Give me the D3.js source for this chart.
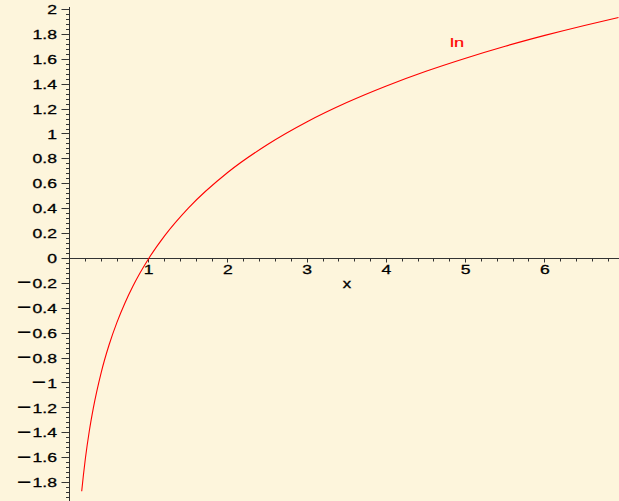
<!DOCTYPE html>
<html>
<head>
<meta charset="utf-8">
<script src="https://cdn.jsdelivr.net/npm/d3@7"></script>
<style>
  html, body { margin: 0; padding: 0; background: #fdf5dc; }
  svg { display: block; }
</style>
</head>
<body>
<div id="chart"></div>
<script>
// points (x, ln x)
const xs = [0.154, 0.175, 0.2, 0.25, 0.3, 0.4, 0.5, 0.6, 0.7, 0.8, 1.0, 1.2, 1.5, 2.0, 2.5, 3.0, 3.5, 4.0, 4.5, 5.0, 5.5, 6.0, 6.5, 6.93];
const ys = [-1.87, -1.743, -1.609, -1.386, -1.204, -0.916, -0.693, -0.511, -0.357, -0.223, 0, 0.182, 0.405, 0.693, 0.916, 1.099, 1.253, 1.386, 1.504, 1.609, 1.705, 1.792, 1.872, 1.936];

const xTicks = [1, 2, 3, 4, 5, 6];
const yTicks = [-1.8, -1.6, -1.4, -1.2, -1, -0.8, -0.6, -0.4, -0.2, 0, 0.2, 0.4, 0.6, 0.8, 1, 1.2, 1.4, 1.6, 1.8, 2];
const curveLabel = 'ln';
const axisLabel = 'x';

const width = 619, height = 501;
const stretch = 1.35;   // the labels are drawn wide

const svg = d3.select('#chart')
    .append('svg')
    .attr('width', width)
    .attr('height', height);

svg.append('rect')
    .attr('width', width)
    .attr('height', height)
    .attr('fill', '#fdf5dc');

// Échelles
const x = d3.scaleLinear().domain([0, 6.93]).range([69.5, 618.5]);
const y = d3.scaleLinear().domain([-1.94, 2.02]).range([500, 7]);

const axisColor = '#333';
const font = '"Liberation Sans", Arial, sans-serif';
const px = v => Math.round(v - 0.5) + 0.5;

// axe vertical
svg.append('line')
    .attr('x1', px(x(0))).attr('x2', px(x(0)))
    .attr('y1', y.range()[1]).attr('y2', height)
    .attr('stroke', axisColor);

// axe horizontal
svg.append('line')
    .attr('x1', x(0)).attr('x2', width)
    .attr('y1', px(y(0))).attr('y2', px(y(0)))
    .attr('stroke', axisColor);

// petites graduations
const yMinor = d3.range(-48, 51).map(i => i * 0.04);
svg.selectAll('.ymin')
    .data(yMinor)
    .enter()
    .append('line')
    .attr('x1', px(x(0)) - 3.5).attr('x2', px(x(0)))
    .attr('y1', d => px(y(d)))
    .attr('y2', d => px(y(d)))
    .attr('stroke', axisColor);

const xMinor = d3.range(1, 35).map(i => i * 0.2);
svg.selectAll('.xmin')
    .data(xMinor)
    .enter()
    .append('line')
    .attr('x1', d => px(x(d)))
    .attr('x2', d => px(x(d)))
    .attr('y1', px(y(0))).attr('y2', px(y(0)) + 3)
    .attr('stroke', axisColor);

// grandes graduations
svg.selectAll('.ymaj')
    .data(yTicks)
    .enter()
    .append('line')
    .attr('x1', px(x(0)) - 8).attr('x2', px(x(0)))
    .attr('y1', d => px(y(d)))
    .attr('y2', d => px(y(d)))
    .attr('stroke', axisColor);

svg.selectAll('.xmaj')
    .data(xTicks)
    .enter()
    .append('line')
    .attr('x1', d => px(x(d)))
    .attr('x2', d => px(x(d)))
    .attr('y1', px(y(0))).attr('y2', px(y(0)) + 4)
    .attr('stroke', axisColor);

// étiquettes
function label(sel, d) {
    if (d < 0) {
        sel.append('tspan').attr('font-size', 18).attr('dy', '0.02em').text('\u2212');
        sel.append('tspan').attr('dy', '-0.02em').attr('dx', 1).text(String(Math.abs(d)));
    } else {
        sel.text(String(d));
    }
}

svg.selectAll('.ylab')
    .data(yTicks)
    .enter()
    .append('text')
    .attr('transform', d => `translate(57,${y(d) + 4.6}) scale(${stretch},1)`)
    .attr('text-anchor', 'end')
    .attr('font-family', font)
    .attr('font-size', 13)
    .attr('fill', '#000')
    .attr('stroke', '#000')
    .attr('stroke-width', 0.3)
    .each(function (d) { label(d3.select(this), d); });

svg.selectAll('.xlab')
    .data(xTicks)
    .enter()
    .append('text')
    .attr('transform', d => `translate(${x(d)},274) scale(${stretch},1)`)
    .attr('text-anchor', 'middle')
    .attr('font-family', font)
    .attr('font-size', 13)
    .attr('fill', '#000')
    .attr('stroke', '#000')
    .attr('stroke-width', 0.3)
    .text(d => String(d));

svg.append('text')
    .attr('transform', `translate(347,288) scale(1.4,1)`)
    .attr('text-anchor', 'middle')
    .attr('font-family', font)
    .attr('font-size', 12)
    .attr('fill', '#000')
    .attr('stroke', '#000')
    .attr('stroke-width', 0.3)
    .text(axisLabel);

// courbe
const data = xs.map((v, i) => ({ x: v, y: ys[i] }));
const line = d3.line()
    .x(d => x(d.x))
    .y(d => y(d.y))
    .curve(d3.curveMonotoneX);

svg.append('path')
    .datum(data)
    .attr('d', line)
    .attr('fill', 'none')
    .attr('stroke', '#ff0000')
    .attr('stroke-width', 1.1);

svg.append('text')
    .attr('transform', `translate(450,47) scale(1.35,1)`)
    .attr('font-family', font)
    .attr('font-size', 13.5)
    .attr('fill', '#ff0000')
    .attr('stroke', '#ff0000')
    .attr('stroke-width', 0.2)
    .text(curveLabel);
</script>
</body>
</html>
